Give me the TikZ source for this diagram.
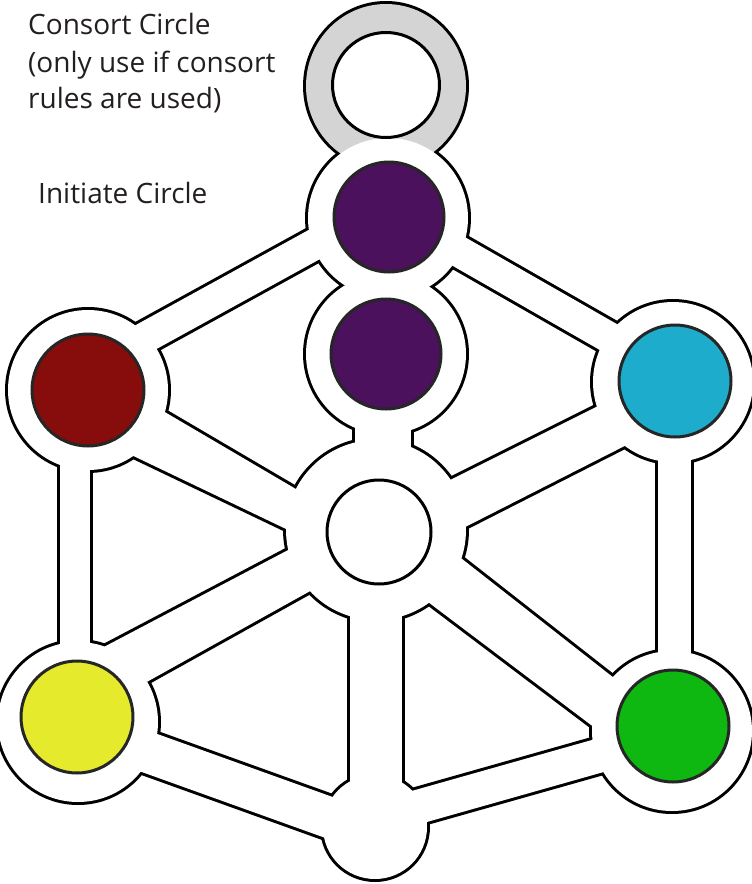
\documentclass[tikz,border=0pt]{standalone}
\usepackage{fontspec}
\setmainfont{Open Sans}
\definecolor{ipurple}{RGB}{75,17,92}
\definecolor{ired}{RGB}{135,12,12}
\definecolor{iblue}{RGB}{30,172,205}
\definecolor{iyellow}{RGB}{230,234,44}
\definecolor{igreen}{RGB}{14,184,16}
\definecolor{iring}{RGB}{212,212,212}
\definecolor{itext}{RGB}{35,31,32}
\begin{document}
\begin{tikzpicture}[x=1pt,y=-1pt,line join=round,
  outl/.style={fill=black,draw=black,line width=6pt},
  inner/.style={fill=white},
  hole/.style={fill=white,draw=black,line width=3pt},
  disc/.style={draw=black!85,line width=3pt},
  lbl/.style={anchor=base west,inner sep=0pt,text=itext,font=\fontsize{28}{34}\selectfont}]
\useasboundingbox[fill=white] (0,0) rectangle (752,884);

% circle centres
\coordinate (cons) at (386,86);
\coordinate (init1) at (388,218);
\coordinate (init2) at (386,354);
\coordinate (red) at (88,390);
\coordinate (blue) at (673,382);
\coordinate (yel) at (78,722);
\coordinate (grn) at (672,731);
\coordinate (hub) at (376,530);
\coordinate (bot) at (375,827);

% ring band end points
\coordinate (b1a) at (388,204); \coordinate (b1b) at (88,369);
\coordinate (b2a) at (388,211); \coordinate (b2b) at (673,374);
\coordinate (b3a) at (75,390);  \coordinate (b3b) at (75,722);
\coordinate (b4a) at (674,382); \coordinate (b4b) at (674,731);
\coordinate (b5a) at (80,728);  \coordinate (b5b) at (375,834);
\coordinate (b6a) at (672,735); \coordinate (b6b) at (375,819);

% spoke polygons
\coordinate (s1a) at (100,374); \coordinate (s1b) at (330,509); \coordinate (s1c) at (330,550); \coordinate (s1d) at (100,440);
\coordinate (s2a) at (355,400); \coordinate (s2b) at (411,400); \coordinate (s2c) at (411,480); \coordinate (s2d) at (355,480);
\coordinate (s3a) at (420,495); \coordinate (s3b) at (660,375); \coordinate (s3c) at (660,428); \coordinate (s3d) at (420,550);
\coordinate (s4a) at (100,649); \coordinate (s4b) at (330,528); \coordinate (s4c) at (330,580); \coordinate (s4d) at (100,708);
\coordinate (s5a) at (420,526); \coordinate (s5b) at (660,714); \coordinate (s5c) at (660,777); \coordinate (s5d) at (420,596);
\coordinate (s6a) at (350,600); \coordinate (s6b) at (402,600); \coordinate (s6c) at (402,830); \coordinate (s6d) at (350,830);

% pass 1: black outline of the union
\fill[black] (cons) ellipse [x radius=83, y radius=85];
\foreach \c/\r in {init1/80,init2/80,red/80,blue/80,yel/80,grn/80,hub/90,bot/52}
  \fill[black] (\c) circle (\r+3);
\foreach \a/\b/\w in {b1a/b1b/31,b2a/b2b/31,b3a/b3b/30,b4a/b4b/33,b5a/b5b/41,b6a/b6b/34}
  \draw[black,line width=\w+6] (\a) -- (\b);
\foreach \s in {s1,s2,s3,s4,s5,s6}
  \path[outl] (\s a) -- (\s b) -- (\s c) -- (\s d) -- cycle;

% pass 2: fills
\fill[iring] (cons) ellipse [x radius=80, y radius=82];
\foreach \c/\r in {init1/80,init2/80,red/80,blue/80,yel/80,grn/80,hub/90,bot/52}
  \fill[white] (\c) circle (\r);
\foreach \a/\b/\w in {b1a/b1b/31,b2a/b2b/31,b3a/b3b/30,b4a/b4b/33,b5a/b5b/41,b6a/b6b/34}
  \draw[white,line width=\w] (\a) -- (\b);
\foreach \s in {s1,s2,s3,s4,s5,s6}
  \path[inner] (\s a) -- (\s b) -- (\s c) -- (\s d) -- cycle;

% holes
\path[hole] (386,85) ellipse [x radius=53.5, y radius=52.5];
\path[hole] (379,532) circle (52);

% coloured discs
\node[disc,fill=ipurple,circle,minimum size=110pt,inner sep=0pt] (p1) at (389,217) {};
\node[disc,fill=ipurple,circle,minimum size=110pt,inner sep=0pt] (p2) at (386,354) {};
\node[disc,fill=ired,circle,minimum size=112pt,inner sep=0pt] (rd) at (88,390) {};
\node[disc,fill=iblue,circle,minimum size=112pt,inner sep=0pt] (bl) at (675,381) {};
\node[disc,fill=iyellow,circle,minimum size=112pt,inner sep=0pt] (yl) at (77,717) {};
\node[disc,fill=igreen,circle,minimum size=112pt,inner sep=0pt] (gr) at (673,726) {};

% labels
\node[lbl] (t1) at (28,34) {Consort Circle};
\node[lbl] (t2) at (28,72) {(only use if consort};
\node[lbl] (t3) at (28,108) {rules are used)};
\node[lbl] (t4) at (38,203) {Initiate Circle};
\end{tikzpicture}
\end{document}
